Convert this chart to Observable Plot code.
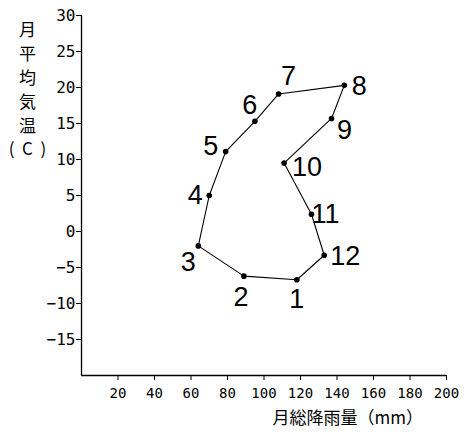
<!DOCTYPE html>
<html>
<head>
<meta charset="utf-8">
<script src="https://cdn.jsdelivr.net/npm/d3@7"></script>
<script src="https://cdn.jsdelivr.net/npm/@observablehq/plot@0.6"></script>
<style>
  html, body { margin: 0; padding: 0; background: #fff; }
  g[aria-label="x-axis tick label"] { font-family: "DejaVu Sans Mono", monospace; font-size: 14px; }
  g[aria-label="y-axis tick label"] { font-family: "DejaVu Sans Mono", monospace; font-size: 16px; }
</style>
</head>
<body>
<div id="chart"></div>
<script>
// ---- data ----
const months = [1, 2, 3, 4, 5, 6, 7, 8, 9, 10, 11, 12];
const precipitation = [118, 89, 64, 70, 79, 95, 108, 144, 137, 111, 126, 133]; // mm
const temperature = [-6.7, -6.2, -2.0, 5.0, 11.1, 15.3, 19.1, 20.3, 15.7, 9.5, 2.4, -3.3]; // C
const xTicks = [20, 40, 60, 80, 100, 120, 140, 160, 180, 200];
const yTicks = [-15, -10, -5, 0, 5, 10, 15, 20, 25, 30];
const xLabel = "月総降雨量（mm）";
const yLabel = "月\n平\n均\n気\n温\n(  C  )";

// ---- label placement (style) ----
const labelDx = [0, -3, -10, -14, -15, -5, 10, 15, 13, 23, 14, 21];
const labelDy = [20, 21, 16, 0, -5, -16, -18, 1, 12, 4, 0, 1];

const data = months.map((m, i) => ({month: m, p: precipitation[i], t: temperature[i]}));

const monthLabels = data.map((d, i) =>
  Plot.text([d], {
    x: "p", y: "t", text: (v) => String(v.month),
    dx: labelDx[i], dy: labelDy[i],
    fontFamily: "Liberation Sans, Arial, sans-serif", fontSize: 27,
    textAnchor: "middle", lineAnchor: "middle", fill: "black"
  })
);

const chart = Plot.plot({
  width: 467,
  height: 434,
  marginLeft: 81,
  marginRight: 21,
  marginTop: 15,
  marginBottom: 59,
  style: {background: "white", color: "black"},
  x: {domain: [0, 200]},
  y: {domain: [-20, 30]},
  marks: [
    Plot.axisX({ticks: xTicks, tickSize: 5, tickPadding: 8, label: null}),
    Plot.axisY({ticks: yTicks, tickSize: 5, tickPadding: 1, label: null}),
    Plot.ruleX([0], {stroke: "black", strokeWidth: 1.3}),
    Plot.ruleY([-20], {stroke: "black", strokeWidth: 1.3}),
    Plot.line(data, {x: "p", y: "t", curve: "linear-closed", stroke: "black", strokeWidth: 1.1}),
    Plot.dot(data, {x: "p", y: "t", r: 2.8, fill: "black", stroke: "none"}),
    ...monthLabels,
    Plot.text([xLabel], {
      frameAnchor: "bottom-left", dx: 191, dy: 43, textAnchor: "start", lineAnchor: "middle",
      fontFamily: "Noto Sans CJK JP", fontSize: 17, fill: "black", ariaLabel: "xtitle"
    }),
    Plot.text([yLabel], {
      frameAnchor: "top-left", dx: -54, dy: 4, textAnchor: "middle", lineAnchor: "top",
      lineHeight: 1.4, fontFamily: "Noto Sans CJK JP", fontSize: 17, fill: "black"
    })
  ]
});

d3.select(chart).select('g[aria-label="xtitle"] text')
  .attr("textLength", 120).attr("lengthAdjust", "spacingAndGlyphs");

document.getElementById("chart").appendChild(chart);
</script>
</body>
</html>
